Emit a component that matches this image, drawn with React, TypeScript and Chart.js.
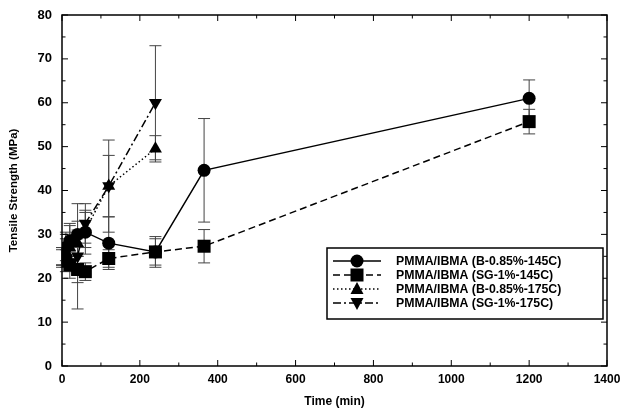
import React, { useEffect, useRef } from "react";
import { Chart, registerables } from "chart.js";
Chart.register(...registerables);

// Time (min) and tensile strength (MPa) with error (+/-)
const timesB145 = [0, 10, 20, 40, 60, 120, 240, 365, 1200];
const valuesB145 = [25, 27, 28.5, 30, 30.5, 28, 26, 44.6, 61];
const errB145 = [2, 3, 4, 3, 5, 6, 3.5, 11.8, 4.2];

const timesSG145 = [0, 10, 20, 40, 60, 120, 240, 365, 1200];
const valuesSG145 = [24.5, 24, 23, 22, 21.5, 24.5, 26, 27.3, 55.7];
const errSG145 = [2, 2.5, 3, 3, 2, 2, 3, 3.8, 2.8];

const timesB175 = [0, 10, 20, 40, 60, 120, 240];
const valuesB175 = [25, 26, 27, 28, 31, 41, 49.5];
const errB175 = [2, 3, 3, 3, 4, 7, 3];

const timesSG175 = [0, 10, 20, 40, 60, 120, 240];
const valuesSG175 = [25, 26.5, 28, 25, 32.5, 41, 60];
const errSG175 = [2, 4, 4, 12, 4.5, 10.5, 13];

const labels = [
  "PMMA/IBMA (B-0.85%-145C)",
  "PMMA/IBMA (SG-1%-145C)",
  "PMMA/IBMA (B-0.85%-175C)",
  "PMMA/IBMA (SG-1%-175C)",
];

const yTicks = [0, 10, 20, 30, 40, 50, 60, 70, 80];
const xTicks = [0, 200, 400, 600, 800, 1000, 1200, 1400];

const FONT = "'Liberation Sans', Arial, sans-serif";

function pts(t: number[], v: number[]) {
  return t.map((x, i) => ({ x, y: v[i] }));
}

const styles = [
  { dash: [] as number[], shape: "circle" },
  { dash: [7, 4], shape: "rect" },
  { dash: [1.5, 2.5], shape: "tri" },
  { dash: [8, 3, 2, 3], shape: "tridown" },
];

function drawShape(ctx: CanvasRenderingContext2D, shape: string, x: number, y: number) {
  ctx.beginPath();
  if (shape === "circle") {
    ctx.arc(x, y, 6.5, 0, Math.PI * 2);
  } else if (shape === "rect") {
    ctx.rect(x - 6.5, y - 6.5, 13, 13);
  } else if (shape === "tri") {
    ctx.moveTo(x, y - 7);
    ctx.lineTo(x + 6.5, y + 5);
    ctx.lineTo(x - 6.5, y + 5);
    ctx.closePath();
  } else {
    ctx.moveTo(x, y + 7);
    ctx.lineTo(x + 6.5, y - 5);
    ctx.lineTo(x - 6.5, y - 5);
    ctx.closePath();
  }
  ctx.fill();
}

const errors = [errB145, errSG145, errB175, errSG175];

const errorBarPlugin = {
  id: "errorBars",
  beforeDatasetsDraw(chart: any) {
    const ctx = chart.ctx;
    const xs = chart.scales.x;
    const ys = chart.scales.y;
    ctx.save();
    ctx.strokeStyle = "#444";
    ctx.lineWidth = 1;
    chart.data.datasets.forEach((ds: any, di: number) => {
      ds.data.forEach((p: any, i: number) => {
        const e = errors[di][i];
        const px = xs.getPixelForValue(p.x);
        const top = ys.getPixelForValue(p.y + e);
        const bot = ys.getPixelForValue(p.y - e);
        ctx.beginPath();
        ctx.moveTo(px, top);
        ctx.lineTo(px, bot);
        ctx.moveTo(px - 6, top);
        ctx.lineTo(px + 6, top);
        ctx.moveTo(px - 6, bot);
        ctx.lineTo(px + 6, bot);
        ctx.stroke();
      });
    });
    ctx.restore();
  },
};

const framePlugin = {
  id: "frame",
  afterDraw(chart: any) {
    const ctx = chart.ctx;
    const a = chart.chartArea;
    const xs = chart.scales.x;
    const ys = chart.scales.y;
    ctx.save();
    ctx.strokeStyle = "#000";
    ctx.lineWidth = 1.5;
    ctx.strokeRect(a.left, a.top, a.right - a.left, a.bottom - a.top);
    ctx.lineWidth = 1;
    ctx.beginPath();
    for (let v = 0; v <= 80; v += 5) {
      const py = ys.getPixelForValue(v);
      const len = v % 10 === 0 ? 6 : 3.5;
      ctx.moveTo(a.left, py);
      ctx.lineTo(a.left + len, py);
      ctx.moveTo(a.right, py);
      ctx.lineTo(a.right - len, py);
    }
    for (let v = 0; v <= 1400; v += 100) {
      const px = xs.getPixelForValue(v);
      const len = v % 200 === 0 ? 6 : 3.5;
      ctx.moveTo(px, a.bottom);
      ctx.lineTo(px, a.bottom - len);
      ctx.moveTo(px, a.top);
      ctx.lineTo(px, a.top + len);
    }
    ctx.stroke();

    // legend
    const bx = 327, by = 248, bw = 276, bh = 71;
    ctx.fillStyle = "#fff";
    ctx.fillRect(bx, by, bw, bh);
    ctx.lineWidth = 1.5;
    ctx.strokeRect(bx, by, bw, bh);
    const rows = [261, 275, 289, 303];
    ctx.font = `bold 12.3px ${FONT}`;
    ctx.textBaseline = "middle";
    labels.forEach((lab, i) => {
      const y = rows[i];
      ctx.strokeStyle = "#000";
      ctx.lineWidth = 1.5;
      ctx.setLineDash(styles[i].dash);
      ctx.beginPath();
      ctx.moveTo(333, y);
      ctx.lineTo(381, y);
      ctx.stroke();
      ctx.setLineDash([]);
      ctx.fillStyle = "#000";
      drawShape(ctx, styles[i].shape, 357, y);
      ctx.fillText(lab, 396, y + 1);
    });
    ctx.restore();
  },
};

export default function App() {
  const ref = useRef<HTMLCanvasElement>(null);
  useEffect(() => {
    if (!ref.current) return;
    const mk = (t: number[], v: number[], i: number, ps: string, r: number, rot = 0) => ({
      label: labels[i],
      data: pts(t, v),
      showLine: true,
      borderColor: "#000",
      backgroundColor: "#000",
      borderWidth: 1.5,
      borderDash: styles[i].dash,
      pointStyle: ps,
      pointRadius: r,
      pointRotation: rot,
      pointBorderWidth: 0,
      pointBackgroundColor: "#000",
    });
    const chart = new Chart(ref.current, {
      type: "scatter",
      data: {
        datasets: [
          mk(timesB145, valuesB145, 0, "circle", 6.5),
          mk(timesSG145, valuesSG145, 1, "rect", 9.2),
          mk(timesB175, valuesB175, 2, "triangle", 7.5),
          mk(timesSG175, valuesSG175, 3, "triangle", 7.5, 180),
        ] as any,
      },
      options: {
        animation: false,
        responsive: false,
        maintainAspectRatio: false,
        layout: { padding: { top: 15, right: 15, left: 0, bottom: 0 } },
        plugins: { legend: { display: false }, tooltip: { enabled: false } },
        scales: {
          x: {
            type: "linear",
            min: 0,
            max: 1400,
            afterBuildTicks: (s: any) => {
              s.ticks = xTicks.map((v) => ({ value: v }));
            },
            afterFit: (s: any) => {
              s.height = 47;
              s.paddingLeft = 0;
              s.paddingRight = 0;
            },
            grid: { display: false, drawTicks: false },
            border: { display: false },
            ticks: {
              color: "#000",
              padding: 6,
              callback: (v: any) => String(v),
              font: { family: FONT, size: 12, weight: "bold" },
            },
            title: {
              display: true,
              text: "Time (min)",
              color: "#000",
              padding: { top: 4 },
              font: { family: FONT, size: 12, weight: "bold" },
            },
          },
          y: {
            type: "linear",
            min: 0,
            max: 80,
            afterBuildTicks: (s: any) => {
              s.ticks = yTicks.map((v) => ({ value: v }));
            },
            afterFit: (s: any) => {
              s.width = 62;
              s.paddingTop = 0;
              s.paddingBottom = 0;
            },
            grid: { display: false, drawTicks: false },
            border: { display: false },
            ticks: {
              color: "#000",
              padding: 10,
              callback: (v: any) => String(v),
              font: { family: FONT, size: 13, weight: "bold" },
            },
            title: {
              display: true,
              text: "Tensile Strength (MPa)",
              color: "#000",
              padding: { top: 7, bottom: 4 },
              font: { family: FONT, size: 11.5, weight: "bold" },
            },
          },
        },
      } as any,
      plugins: [errorBarPlugin, framePlugin],
    });
    return () => chart.destroy();
  }, []);
  return (
    <div style={{ position: "fixed", left: 0, top: 0, width: 622, height: 413, background: "#fff" }}>
      <canvas ref={ref} width={622} height={413} style={{ width: 622, height: 413 }} />
    </div>
  );
}
